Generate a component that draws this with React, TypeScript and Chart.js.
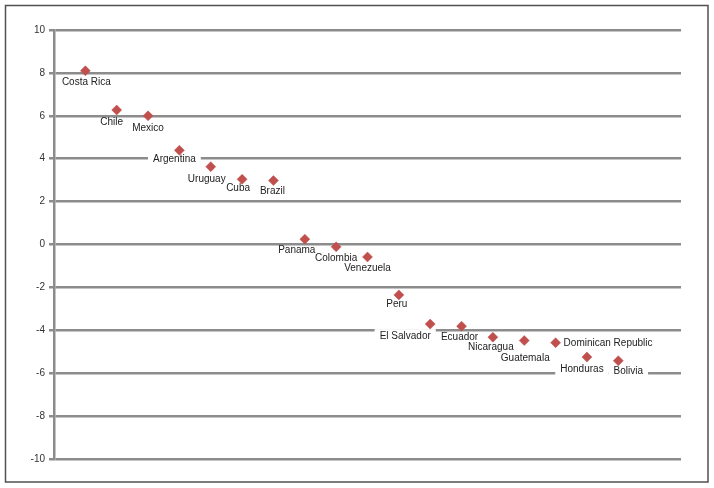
import { useEffect, useRef } from "react";
import { Chart, registerables } from "chart.js";

Chart.register(...registerables);

const countries = [
  "Costa Rica", "Chile", "Mexico", "Argentina", "Uruguay", "Cuba", "Brazil",
  "Panama", "Colombia", "Venezuela", "Peru", "El Salvador", "Ecuador",
  "Nicaragua", "Guatemala", "Dominican Republic", "Honduras", "Bolivia",
];
const values = [
  8.1, 6.27, 6.0, 4.39, 3.63, 3.04, 2.98,
  0.25, -0.11, -0.58, -2.35, -3.71, -3.81,
  -4.32, -4.48, -4.58, -5.25, -5.42,
];
const yTicks = [10, 8, 6, 4, 2, 0, -2, -4, -6, -8, -10];

// label layout (offsets from the marker, in pixels)
const labelDx = [1, -5, 0, -5, -4, -4, -1, -8, 0, 0, -2, -25, -2, -2, 1, 8, -5, 10];
const labelDy = [11, 12, 12, 8, 12, 8, 10, 11, 11, 11, 9, 12, 11, 10, 17, 0, 12, 10];
const labelLeftAligned = [false, false, false, false, false, false, false, false, false, false, false, false, false, false, false, true, false, false];
const labelBoxed = [false, false, false, true, false, false, false, false, false, false, false, true, false, false, false, false, true, true];

const FONT = '"Liberation Sans", Arial, sans-serif';

const labelPlugin = {
  id: "countryLabels",
  beforeDatasetsDraw(chart: any) {
    const ctx = chart.ctx;
    const meta = chart.getDatasetMeta(0);
    ctx.save();
    ctx.font = `10px ${FONT}`;
    ctx.textBaseline = "middle";
    ctx.textAlign = "left";
    const boxes = meta.data.map((el: any, i: number) => {
      const w = ctx.measureText(countries[i]).width;
      const x = el.x + labelDx[i];
      const y = el.y + labelDy[i];
      const left = labelLeftAligned[i] ? x : x - w / 2;
      return { left, y, w };
    });
    boxes.forEach((b: any, i: number) => {
      if (labelBoxed[i]) {
        ctx.fillStyle = "#ffffff";
        ctx.fillRect(b.left - 5, b.y - 7, b.w + 10, 14);
      }
    });
    ctx.fillStyle = "#222222";
    boxes.forEach((b: any, i: number) => {
      ctx.fillText(countries[i], b.left, b.y + 0.5);
    });
    ctx.restore();
  },
};

const framePlugin = {
  id: "frame",
  afterDraw(chart: any) {
    const ctx = chart.ctx;
    ctx.save();
    ctx.strokeStyle = "#505050";
    ctx.lineWidth = 1.5;
    ctx.strokeRect(5.5, 5.5, 702.5, 476.5);
    ctx.restore();
  },
};

export default function App() {
  const ref = useRef<HTMLCanvasElement | null>(null);

  useEffect(() => {
    if (!ref.current) return;
    const chart = new Chart(ref.current, {
      type: "scatter",
      data: {
        datasets: [
          {
            data: values.map((v, i) => ({ x: i + 1, y: v })),
            pointStyle: "rectRot",
            pointRadius: 5,
            pointBackgroundColor: "#c0504d",
            pointBorderColor: "#c0504d",
            pointBorderWidth: 0.5,
          },
        ],
      },
      options: {
        animation: false,
        responsive: false,
        layout: { padding: { left: 0, top: 30, right: 33, bottom: 29 } },
        plugins: { legend: { display: false }, tooltip: { enabled: false } },
        scales: {
          x: { type: "linear", min: 0, max: 20, display: false },
          y: {
            min: -10,
            max: 10,
            afterFit(scale: any) {
              scale.width = 54;
            },
            afterBuildTicks(scale: any) {
              scale.ticks = yTicks.map((v) => ({ value: v }));
            },
            grid: { color: "#8c8c8c", lineWidth: 2.5, tickLength: 5, drawTicks: true },
            border: { display: true, color: "#8c8c8c", width: 2.5 },
            ticks: { font: { size: 10, family: FONT }, color: "#333333", padding: 4 },
          },
        },
      },
      plugins: [labelPlugin, framePlugin],
    });
    return () => chart.destroy();
  }, []);

  return (
    <div style={{ position: "fixed", left: 0, top: 0, width: 714, height: 488, background: "#fff" }}>
      <canvas ref={ref} width={714} height={488} />
    </div>
  );
}
